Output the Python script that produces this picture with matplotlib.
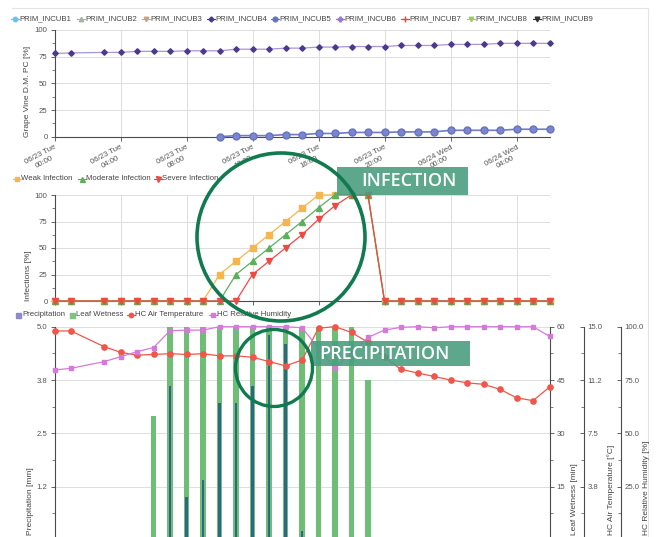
import matplotlib
matplotlib.use("Agg")
import matplotlib.pyplot as plt
from matplotlib.lines import Line2D
from matplotlib.patches import Rectangle, Ellipse
from matplotlib.ticker import AutoMinorLocator, FormatStrFormatter

W, H, DPI = 659, 537, 100
plt.rcParams['font.family'] = ['Liberation Sans', 'DejaVu Sans']

# ---- data (hours since 06/23 00:00; hour 2 has no record) ----
hours = [0, 1] + list(range(3, 31))

incub4 = [78, 78.5, 79, 79, 80, 80, 80, 80.5, 80.5, 80.5, 82, 82, 82, 83, 83,
          84, 84, 84.5, 84.5, 84.5, 85.5, 85.5, 85.5, 86.5, 86.5, 86.5, 87.5,
          87.5, 87.5, 87.5]
incub5_hours = list(range(10, 31))
incub5 = [0, 1, 1, 1, 2, 2, 3, 3, 4, 4, 4, 4.5, 4.5, 4.5, 6, 6, 6, 6, 7, 7, 7]

weak = [0] * 9 + [25, 37.5, 50, 62.5, 75, 87.5, 100, 100, 100, 100] + [0] * 11
moderate = [0] * 10 + [25, 37.5, 50, 62.5, 75, 88, 100, 100, 100] + [0] * 11
severe = [0] * 11 + [25, 37.5, 50, 62.5, 77, 90, 100, 100] + [0] * 11

precipitation = [0, 0, 0, 0, 0, 0, 3.6, 1.0, 1.4, 3.2, 3.2, 3.6, 4.8, 4.6, 0.2,
                 0, 0, 0, 0, 0, 0, 0, 0, 0, 0, 0, 0, 0, 0, 0]
leaf_wetness = [0, 0, 0, 0, 0, 35, 60, 60, 60, 60, 60, 60, 60, 60, 60, 60, 60,
                60, 45, 0, 0, 0, 0, 0, 0, 0, 0, 0, 0, 0]
air_temp = [14.7, 14.7, 13.6, 13.2, 13.0, 13.05, 13.1, 13.05, 13.1, 12.95,
            12.95, 12.85, 12.55, 12.25, 12.65, 14.9, 15.0, 14.6, 13.9, 12.85,
            12.0, 11.75, 11.5, 11.25, 11.05, 10.95, 10.6, 10.0, 9.8, 10.75]
rel_humidity = [79.7, 80.5, 83.6, 85.9, 88.3, 90.2, 98.1, 98.4, 98.4, 100, 100,
                100, 100, 100, 99.5, 90, 80.6, 88, 95, 98.4, 99.7, 100, 99.5,
                100, 100, 100, 100, 100, 100, 95.5]

tick_hours = list(range(0, 30, 4))
tick_labels = ["06/23 Tue\n00:00", "06/23 Tue\n04:00", "06/23 Tue\n08:00",
               "06/23 Tue\n12:00", "06/23 Tue\n16:00", "06/23 Tue\n20:00",
               "06/24 Wed\n00:00", "06/24 Wed\n04:00"]

incub_names = ["PRIM_INCUB%d" % i for i in range(1, 10)]
infection_names = ["Weak Infection", "Moderate Infection", "Severe Infection"]
weather_names = ["Precipitation", "Leaf Wetness", "HC Air Temperature",
                 "HC Relative Humidity"]

# ---- styling ----
GRID = '#dddddd'
AXC = '#4a4a4a'
TXT = '#555555'
FS = 5.6

fig = plt.figure(figsize=(W / DPI, H / DPI), dpi=DPI)


def fx(x):
    return x / W


def fy(y):
    return 1 - y / H


def axes_px(left, top, right, bottom):
    return fig.add_axes([fx(left), fy(bottom), (right - left) / W, (bottom - top) / H])


def style(ax):
    ax.set_xlim(0, 30)
    for s in ('top', 'right'):
        ax.spines[s].set_visible(False)
    for s in ('left', 'bottom'):
        ax.spines[s].set_color(AXC)
        ax.spines[s].set_linewidth(0.8)
    ax.set_xticks(tick_hours)
    ax.grid(True, color=GRID, lw=0.7)
    ax.set_axisbelow(True)
    ax.tick_params(labelsize=FS, color=AXC, labelcolor=TXT, length=3, width=0.6, pad=2)
    ax.yaxis.set_minor_locator(AutoMinorLocator(2))
    ax.tick_params(which='minor', length=2, width=0.5, color=AXC)


XL, XR = 54.5, 549.5

# ---- top panel: grape vine downy mildew ----
ax1 = axes_px(XL, 30, XR, 136.7)
style(ax1)
ax1.set_ylim(0, 100)
ax1.set_yticks([0, 25, 50, 75, 100])
ax1.set_xticklabels(tick_labels, rotation=28, ha='right', va='top',
                    rotation_mode='anchor', multialignment='center')
ax1.plot(hours, incub4, color='#a994d8', lw=0.9, marker='D', ms=2.8,
         mfc='#4b3a8c', mec='#4b3a8c', clip_on=False, zorder=3)
ax1.plot(incub5_hours, incub5, color='#6f7cc8', lw=1.2, marker='o', ms=5,
         mfc='#7c86cf', mec='#6673c2', clip_on=False, zorder=3)

# ---- middle panel: infections ----
ax2 = axes_px(XL, 195, XR, 301)
style(ax2)
ax2.set_ylim(0, 100)
ax2.set_yticks([0, 25, 50, 75, 100])
ax2.tick_params(labelbottom=False)
ax2.plot(hours, weak, color='#f6b54e', lw=0.9, marker='s', ms=3.8, clip_on=False, zorder=3)
ax2.plot(hours, moderate, color='#5caf5c', lw=0.9, marker='^', ms=4.2, clip_on=False, zorder=4)
ax2.plot(hours, severe, color='#ee4a44', lw=0.9, marker='v', ms=4.2, clip_on=False, zorder=5)

# ---- bottom panel: weather ----
ax3 = axes_px(XL, 326.7, XR, 540)
ax_lw = ax3.twinx()
ax_t = ax3.twinx()
ax_rh = ax3.twinx()
ax_lw.set_zorder(1)
ax3.set_zorder(2)
ax_t.set_zorder(3)
ax_rh.set_zorder(4)
ax3.patch.set_visible(False)

style(ax3)
ax3.grid(False)
ax3.tick_params(labelbottom=False)
ax3.set_ylim(0, 5)
ax3.set_yticks([0, 1.25, 2.5, 3.75, 5])
ax3.yaxis.set_major_formatter(FormatStrFormatter('%.1f'))

ax_lw.set_xlim(0, 30)
ax_lw.set_ylim(0, 60)
ax_lw.set_yticks([0, 15, 30, 45, 60])
ax_lw.yaxis.set_minor_locator(AutoMinorLocator(2))
ax_lw.grid(True, color=GRID, lw=0.7)
ax_lw.set_axisbelow(True)
ax_lw.spines['right'].set_color(AXC)
ax_lw.spines['right'].set_linewidth(0.8)
for s in ('top', 'left', 'bottom'):
    ax_lw.spines[s].set_visible(False)
ax_lw.tick_params(labelsize=FS, color=AXC, labelcolor=TXT, length=3, width=0.6, pad=2)
ax_lw.tick_params(which='minor', length=2, width=0.5, color=AXC)


def side_axis(ax, xpix, lim, ticks, fmt):
    ax.spines['right'].set_position(('axes', (xpix - XL) / (XR - XL)))
    ax.spines['right'].set_color(AXC)
    ax.spines['right'].set_linewidth(0.8)
    for s in ('top', 'left', 'bottom'):
        ax.spines[s].set_visible(False)
    ax.set_ylim(*lim)
    ax.set_yticks(ticks)
    ax.yaxis.set_major_formatter(FormatStrFormatter(fmt))
    ax.yaxis.set_minor_locator(AutoMinorLocator(2))
    ax.tick_params(direction='in', labelsize=FS, color=AXC, labelcolor=TXT,
                   length=3, width=0.6, pad=3)
    ax.tick_params(which='minor', direction='in', length=2, width=0.5, color=AXC)


side_axis(ax_t, 583.5, (0, 15), [0, 3.75, 7.5, 11.25, 15], '%.1f')
side_axis(ax_rh, 620.5, (0, 100), [0, 25, 50, 75, 100], '%.1f')

ax_lw.bar(hours, leaf_wetness, width=0.32, color='#6fbe76', zorder=2)
ax3.bar(hours, precipitation, width=0.18, color='#2f6683', zorder=2)
ax_t.plot(hours, air_temp, color='#f0564b', lw=0.9, marker='o', ms=3.8,
          clip_on=False, zorder=3)
ax_rh.plot(hours, rel_humidity, color='#d47ad8', lw=0.9, marker='s', ms=3.4,
           clip_on=False, zorder=3)

# ---- axis titles ----
def vlabel(x, ybottom, text):
    fig.text(fx(x), fy(ybottom), text, rotation=90, ha='center', va='bottom',
             fontsize=6, color='#444444')


vlabel(27.5, 137, "Grape Vine D.M. PC [%]")
vlabel(28, 301, "Infections [%]")
vlabel(30, 535, "Precipitation [mm]")
vlabel(575, 535, "Leaf Wetness [min]")
vlabel(611, 535, "HC Air Temperature [°C]")
vlabel(646, 535, "HC Relative Humidity [%]")

# ---- legends ----
def legend_item(x, y, label, color, marker, ms, line=True, mfc=None):
    if line:
        fig.add_artist(Line2D([fx(x - 4), fx(x + 4)], [fy(y), fy(y)], color=color,
                              lw=0.8, transform=fig.transFigure))
    fig.add_artist(Line2D([fx(x)], [fy(y)], marker=marker, ms=ms, color=color,
                          mfc=mfc or color, mec=color, ls='none',
                          transform=fig.transFigure))
    fig.text(fx(x + 4), fy(y), label, fontsize=FS, color='#444444',
             ha='left', va='center')


incub_style = [('#6cc4e4', 'o', 3.2), ('#a5b5a5', '^', 3.2), ('#c9a27c', 'v', 3.2),
               ('#4b3a8c', 'D', 2.6), ('#6673c2', 'o', 3.4), ('#9c78d4', 'P', 3.4),
               ('#e3463b', '+', 4.0), ('#9acb5c', 'v', 3.2), ('#333333', 'v', 3.4)]
incub_x = [15, 81, 146, 211, 275, 340, 405, 471, 537]
for name, (c, m, s), x in zip(incub_names, incub_style, incub_x):
    legend_item(x, 18.5, name, c, m, s)

inf_style = [('#f6b54e', 's', 3.2), ('#5caf5c', '^', 3.6), ('#ee4a44', 'v', 3.6)]
inf_x = [17, 82, 158]
for name, (c, m, s), x in zip(infection_names, inf_style, inf_x):
    legend_item(x, 179, name, c, m, s)

w_style = [('#8a8ad2', 's', 3.6, False), ('#7cc47f', 's', 3.6, False),
           ('#f0564b', 'o', 3.2, True), ('#d47ad8', 's', 3.0, True)]
w_x = [18, 72, 131, 213]
for name, (c, m, s, ln), x in zip(weather_names, w_style, w_x):
    legend_item(x, 314.5, name, c, m, s, line=ln)

# ---- frame lines ----
fig.add_artist(Line2D([fx(12), fx(648)], [fy(7.5), fy(7.5)], color='#e4e4e4', lw=0.8,
                      transform=fig.transFigure))
fig.add_artist(Line2D([fx(648), fx(648)], [fy(7.5), fy(537)], color='#e4e4e4', lw=0.8,
                      transform=fig.transFigure))

# ---- callouts ----
BOX = '#4b9e81'
RING = '#117a4f'


def callout_box(x0, y0, x1, y1, text, tx):
    fig.add_artist(Rectangle((fx(x0), fy(y1)), (x1 - x0) / W, (y1 - y0) / H,
                             transform=fig.transFigure, facecolor=BOX, alpha=0.9,
                             edgecolor='none', zorder=10))
    fig.text(fx(tx), fy((y0 + y1) / 2 + 0.5), text, fontsize=13, color='white',
             family=['Open Sans', 'DejaVu Sans'], fontweight='semibold',
             ha='left', va='center', zorder=11)


def ring(cx, cy, r, lw):
    fig.add_artist(Ellipse((fx(cx), fy(cy)), 2 * r / W, 2 * r / H,
                           transform=fig.transFigure, fill=False, edgecolor=RING,
                           lw=lw, zorder=12))


callout_box(337, 167, 468, 195, "INFECTION", 361)
callout_box(311, 341, 470, 366, "PRECIPITATION", 319)
ring(281, 237, 84, 2.6)
ring(274, 368, 38.5, 2.4)

fig.savefig("out.png", dpi=DPI)
